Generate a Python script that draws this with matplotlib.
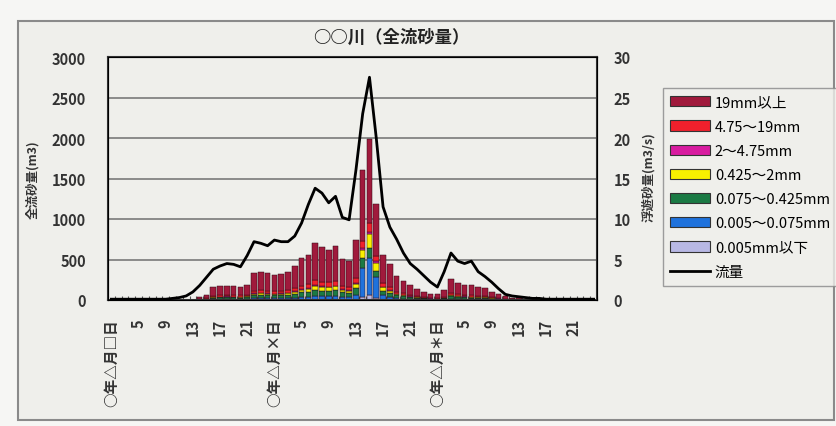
import matplotlib
matplotlib.use('Agg')
import matplotlib.pyplot as plt
from matplotlib.patches import Patch, Rectangle
from matplotlib.lines import Line2D
import numpy as np

plt.rcParams['font.family'] = ['Noto Sans CJK JP', 'DejaVu Sans']

# 時刻ラベル (72時間, 4時間ごとに表示)
tick_labels = ['○年△月□日', '5', '9', '13', '17', '21',
               '○年△月×日', '5', '9', '13', '17', '21',
               '○年△月＊日', '5', '9', '13', '17', '21']

# 粒径別の流砂量 (m3)  下から順に積み上げ
s_0005 = [0, 0, 0, 0, 0, 0, 0, 0, 0, 0, 0, 0, 0, 0, 0, 1, 1, 1, 1, 1, 1, 2, 2, 2,
          2, 2, 2, 3, 3, 3, 4, 4, 4, 4, 3, 3, 6, 40, 60, 30, 6, 4, 2, 2, 1, 1, 1, 0,
          0, 1, 2, 1, 1, 1, 1, 1, 1, 0, 0, 0, 0, 0, 0, 0, 0, 0, 0, 0, 0, 0, 0, 0]
s_0075 = [0, 0, 0, 0, 0, 0, 0, 0, 0, 0, 0, 0, 0, 3, 4, 10, 10, 11, 10, 10, 12, 20, 22, 20,
          19, 20, 22, 26, 32, 35, 45, 42, 40, 44, 34, 32, 60, 350, 455, 250, 50, 30, 20, 15, 12, 8, 6, 5,
          4, 7, 15, 12, 11, 10, 10, 9, 6, 5, 3, 2, 1, 1, 0, 0, 0, 0, 0, 0, 0, 0, 0, 0]
s_0425 = [0, 0, 0, 0, 0, 0, 0, 0, 0, 0, 0, 0, 0, 5, 8, 18, 20, 20, 20, 19, 22, 38, 40, 38,
          36, 37, 40, 48, 58, 62, 75, 70, 68, 72, 56, 54, 80, 125, 125, 80, 60, 50, 34, 28, 20, 15, 12, 9,
          8, 13, 28, 22, 20, 19, 18, 16, 11, 9, 6, 3, 2, 1, 0, 0, 0, 0, 0, 0, 0, 0, 0, 0]
s_2 = [0, 0, 0, 0, 0, 0, 0, 0, 0, 0, 0, 0, 0, 2, 3, 8, 8, 9, 8, 8, 10, 16, 18, 16,
       15, 16, 18, 22, 28, 38, 50, 46, 44, 48, 30, 28, 50, 100, 170, 100, 40, 30, 18, 14, 10, 7, 5, 4,
       4, 6, 12, 10, 9, 9, 8, 7, 5, 4, 2, 1, 1, 0, 0, 0, 0, 0, 0, 0, 0, 0, 0, 0]
s_475 = [0, 0, 0, 0, 0, 0, 0, 0, 0, 0, 0, 0, 0, 1, 1, 3, 3, 3, 3, 3, 4, 6, 6, 6,
         5, 6, 6, 8, 9, 10, 12, 11, 10, 11, 9, 8, 14, 25, 30, 18, 10, 8, 5, 4, 3, 2, 2, 1,
         1, 2, 5, 4, 3, 3, 3, 3, 2, 1, 1, 1, 0, 0, 0, 0, 0, 0, 0, 0, 0, 0, 0, 0]
s_19 = [0, 0, 0, 0, 0, 0, 0, 0, 0, 0, 0, 0, 0, 4, 6, 15, 16, 16, 15, 15, 18, 30, 32, 30,
        28, 29, 32, 38, 45, 50, 60, 55, 52, 58, 44, 40, 60, 90, 110, 70, 45, 36, 25, 20, 15, 11, 8, 7,
        6, 10, 25, 20, 18, 17, 15, 14, 9, 7, 4, 3, 2, 1, 0, 0, 0, 0, 0, 0, 0, 0, 0, 0]
s_over = [0, 0, 0, 0, 0, 0, 0, 0, 0, 0, 0, 0, 0, 25, 38, 105, 112, 115, 113, 109, 123, 218, 230, 218,
          205, 210, 230, 275, 345, 362, 454, 422, 402, 433, 334, 315, 470, 870, 1040, 642, 349, 282, 196, 157, 119, 86, 66, 54,
          47, 81, 173, 141, 128, 121, 110, 100, 66, 54, 34, 20, 14, 7, 0, 0, 0, 0, 0, 0, 0, 0, 0, 0]

# 流量 (m3/s)
flow = [0.1, 0.1, 0.1, 0.1, 0.1, 0.1, 0.1, 0.1, 0.1, 0.2, 0.3, 0.5, 1.0, 1.8, 2.8, 3.8, 4.2, 4.5, 4.4, 4.1, 5.5, 7.2, 7.0, 6.7,
        7.4, 7.2, 7.2, 7.9, 9.5, 11.8, 13.8, 13.2, 12.0, 12.8, 10.2, 9.9, 16.0, 23.0, 27.5, 20.0, 11.5, 9.0, 7.5, 5.8, 4.5, 3.8, 3.0, 2.2,
        1.6, 3.5, 5.8, 4.8, 4.5, 4.8, 3.5, 2.9, 2.2, 1.4, 0.7, 0.5, 0.4, 0.3, 0.2, 0.2, 0.1, 0.1, 0.1, 0.1, 0.1, 0.1, 0.1, 0.1]

series = [s_0005, s_0075, s_0425, s_2, s_475, s_19, s_over]
names = ['0.005mm以下', '0.005～0.075mm', '0.075～0.425mm', '0.425～2mm',
         '2～4.75mm', '4.75～19mm', '19mm以上']
colors = ['#b8b8e4', '#1f72dc', '#1b7a44', '#f8f000', '#d81ca0', '#f0202c', '#a01a3c']

bg = '#efefeb'
fig = plt.figure(figsize=(8.36, 4.27), dpi=100, facecolor='#f6f6f4')
# 外枠
fig.patches.append(Rectangle((18 / 836, 1 - 421 / 427), 816 / 836, 399 / 427,
                             transform=fig.transFigure, facecolor=bg,
                             edgecolor='#8a8a8a', lw=1.5, zorder=-5))

ax = fig.add_axes([108 / 836, 1 - 301 / 427, 489 / 836, 243 / 427])
ax.set_facecolor(bg)

x = np.arange(len(flow))
bottom = np.zeros(len(flow))
for vals, c in zip(series, colors):
    ax.bar(x, vals, width=0.82, bottom=bottom, color=c, edgecolor='#2a0a14', linewidth=0.35)
    bottom += np.array(vals)

ax.set_xlim(-0.5, len(flow) - 0.5)
ax.set_ylim(0, 3000)
ax.set_yticks(range(0, 3001, 500))
ax.yaxis.grid(True, color='#7a7a7a', lw=1.2)
ax.set_axisbelow(True)
ax.set_xticks(x[::4])
ax.set_xticklabels(tick_labels, rotation=90, fontsize=10.5, fontweight='bold', color='#333333')
ax.set_xticks(np.arange(-0.5, len(flow), 1), minor=True)
ax.tick_params(axis='x', which='major', length=0, pad=13)
ax.tick_params(axis='x', which='minor', direction='in', length=3, width=0.8, color='#555555')
ax.tick_params(axis='y', length=0, pad=16, labelsize=10.5, labelcolor='#333333')
for lab in ax.get_yticklabels():
    lab.set_fontweight('bold')
for sp in ax.spines.values():
    sp.set_color('#333333')
    sp.set_linewidth(1.5)

ax2 = ax.twinx()
ax2.plot(x, flow, color='black', lw=2)
ax2.set_ylim(0, 30)
ax2.set_yticks(range(0, 31, 5))
ax2.tick_params(axis='y', length=0, pad=12, labelsize=10.5, labelcolor='#333333')
for lab in ax2.get_yticklabels():
    lab.set_fontweight('bold')

fig.text(391 / 836, 1 - 38 / 427, '○○川（全流砂量）', ha='center', va='center',
         fontsize=12.5, fontweight='bold', color='#222222')
fig.text(33 / 836, 1 - 180 / 427, '全流砂量(m3)', rotation=90, ha='center', va='center',
         fontsize=9, fontweight='bold', color='#333333')
fig.text(648 / 836, 1 - 177 / 427, '浮遊砂量(m3/s)', rotation=90, ha='center', va='center',
         fontsize=9, fontweight='bold', color='#333333')

handles = [Patch(facecolor=c, edgecolor='#333333', lw=0.8) for c in colors[::-1]]
handles.append(Line2D([0], [0], color='black', lw=2))
labels = names[::-1] + ['流量']
leg = fig.legend(handles, labels, loc='upper left', bbox_to_anchor=(663 / 836, 1 - 89 / 427),
                 bbox_transform=fig.transFigure, fontsize=10.5, frameon=True, fancybox=False,
                 handlelength=2.7, handleheight=0.7, labelspacing=0.7, handletextpad=0.35,
                 borderpad=0.5, borderaxespad=0)
leg.get_frame().set_edgecolor('#888888')
leg.get_frame().set_facecolor(bg)
leg.get_frame().set_linewidth(1.0)

fig.savefig('out.png', dpi=100, facecolor=fig.get_facecolor())
